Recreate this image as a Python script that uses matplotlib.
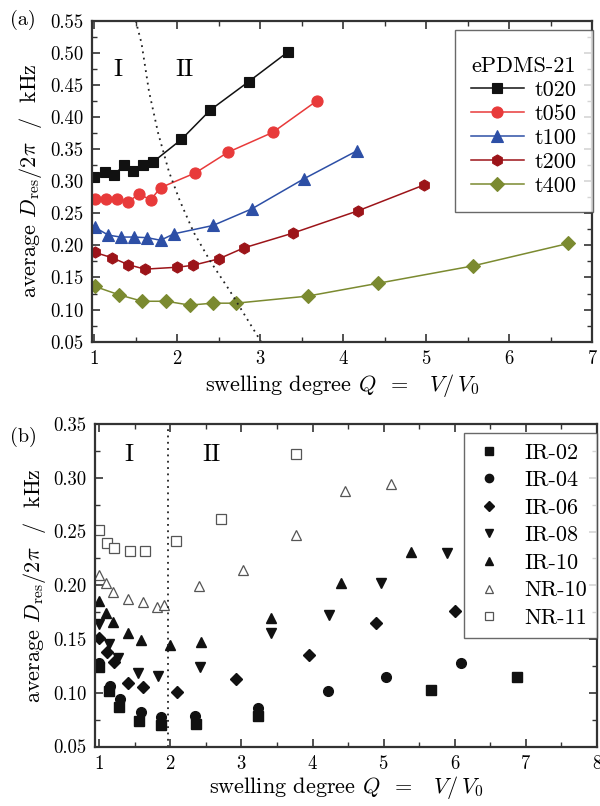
import matplotlib
matplotlib.use("Agg")
import matplotlib.pyplot as plt
from matplotlib.ticker import MultipleLocator, FormatStrFormatter

plt.rcParams['font.family'] = ['cmr10', 'DejaVu Serif']
plt.rcParams['mathtext.fontset'] = 'cm'
plt.rcParams['axes.unicode_minus'] = False
plt.rcParams['axes.formatter.use_mathtext'] = True

# ---------------- panel (a) data ----------------
t020_q = [1.00, 1.13, 1.24, 1.36, 1.47, 1.59, 1.71, 2.05, 2.40, 2.86, 3.33]
t020_v = [0.307, 0.314, 0.310, 0.325, 0.316, 0.326, 0.330, 0.365, 0.411, 0.455, 0.501]
t050_q = [1.01, 1.14, 1.28, 1.41, 1.54, 1.68, 1.80, 2.22, 2.61, 3.15, 3.68]
t050_v = [0.272, 0.272, 0.273, 0.268, 0.280, 0.271, 0.290, 0.313, 0.345, 0.376, 0.425]
t100_q = [1.01, 1.17, 1.32, 1.48, 1.64, 1.80, 1.96, 2.43, 2.90, 3.53, 4.16]
t100_v = [0.228, 0.216, 0.213, 0.213, 0.212, 0.208, 0.218, 0.231, 0.257, 0.304, 0.347]
t200_q = [1.01, 1.21, 1.41, 1.61, 2.00, 2.19, 2.50, 2.80, 3.39, 4.18, 4.97]
t200_v = [0.189, 0.181, 0.170, 0.163, 0.166, 0.169, 0.179, 0.196, 0.219, 0.254, 0.294]
t400_q = [1.01, 1.30, 1.58, 1.87, 2.15, 2.43, 2.71, 3.57, 4.42, 5.56, 6.71]
t400_v = [0.136, 0.123, 0.113, 0.113, 0.107, 0.110, 0.110, 0.121, 0.141, 0.168, 0.203]
boundary_a_q = [1.50, 1.57, 1.66, 1.77, 1.90, 2.03, 2.20, 2.40, 2.63, 2.82, 3.01]
boundary_a_v = [0.55, 0.515, 0.44, 0.375, 0.315, 0.27, 0.22, 0.175, 0.13, 0.09, 0.05]

series_a = [
    ("t020", t020_q, t020_v, "#111111", "s", 7),
    ("t050", t050_q, t050_v, "#e83a3a", "o", 8),
    ("t100", t100_q, t100_v, "#2d4fa6", "^", 8),
    ("t200", t200_q, t200_v, "#9c1419", "h", 8),
    ("t400", t400_q, t400_v, "#7b8a30", "D", 7),
]

# ---------------- panel (b) data ----------------
ir02_q = [1.00, 1.14, 1.28, 1.56, 1.87, 2.36, 3.23, 5.67, 6.88]
ir02_v = [0.124, 0.102, 0.087, 0.074, 0.070, 0.071, 0.078, 0.103, 0.115]
ir04_q = [1.00, 1.15, 1.29, 1.58, 1.87, 2.35, 3.23, 4.22, 5.03, 6.09]
ir04_v = [0.128, 0.106, 0.094, 0.082, 0.077, 0.078, 0.086, 0.102, 0.115, 0.128]
ir06_q = [1.00, 1.11, 1.21, 1.41, 1.61, 2.10, 2.92, 3.95, 4.89, 6.00]
ir06_v = [0.151, 0.138, 0.129, 0.109, 0.105, 0.101, 0.113, 0.135, 0.165, 0.176]
ir08_q = [1.00, 1.13, 1.27, 1.55, 1.82, 2.41, 3.41, 4.23, 4.96, 5.89]
ir08_v = [0.164, 0.145, 0.132, 0.118, 0.116, 0.124, 0.156, 0.172, 0.202, 0.230]
ir10_q = [1.00, 1.09, 1.19, 1.40, 1.59, 1.99, 2.43, 3.42, 4.40, 5.39]
ir10_v = [0.185, 0.174, 0.166, 0.156, 0.149, 0.144, 0.147, 0.170, 0.202, 0.231]
nr10_q = [1.00, 1.09, 1.20, 1.41, 1.61, 1.81, 1.91, 2.40, 3.02, 3.76, 4.46, 5.10]
nr10_v = [0.210, 0.202, 0.194, 0.187, 0.184, 0.180, 0.182, 0.199, 0.214, 0.247, 0.288, 0.294]
nr11_q = [1.00, 1.11, 1.21, 1.43, 1.65, 2.08, 2.71, 3.77]
nr11_v = [0.251, 0.239, 0.235, 0.232, 0.232, 0.241, 0.262, 0.322]
boundary_b_q = 1.96

series_b = [
    ("IR-02", ir02_q, ir02_v, "s", True, 6.5),
    ("IR-04", ir04_q, ir04_v, "o", True, 7),
    ("IR-06", ir06_q, ir06_v, "D", True, 6),
    ("IR-08", ir08_q, ir08_v, "v", True, 7),
    ("IR-10", ir10_q, ir10_v, "^", True, 7),
    ("NR-10", nr10_q, nr10_v, "^", False, 7.5),
    ("NR-11", nr11_q, nr11_v, "s", False, 6.5),
]

FS = 13.5
LFS = 16
fig = plt.figure(figsize=(6.0, 8.06), dpi=100)
W, H = 600.0, 806.0
ax1 = fig.add_axes([91.7 / W, 1 - 341.7 / H, (592.3 - 91.7) / W, (341.7 - 20.7) / H])
ax2 = fig.add_axes([95.0 / W, 1 - 746.5 / H, (597.0 - 95.0) / W, (746.5 - 424.0) / H])

def style(ax):
    for s in ax.spines.values():
        s.set_linewidth(1.6)
        s.set_color("#333333")
    ax.tick_params(which="both", direction="in", top=True, right=True,
                   labelsize=FS, pad=6, color="#333333")
    ax.tick_params(which="major", length=6, width=1.2)
    ax.tick_params(which="minor", length=3.5, width=1.0)
    ax.xaxis.set_major_locator(MultipleLocator(1))
    ax.xaxis.set_minor_locator(MultipleLocator(0.5))
    ax.yaxis.set_major_locator(MultipleLocator(0.05))
    ax.yaxis.set_minor_locator(MultipleLocator(0.025))
    ax.yaxis.set_major_formatter(FormatStrFormatter("%.2f"))

ylabel = r"average $D_{\rm res}/2\pi$  /  kHz"
xlabel = r"swelling degree $Q$  =   $V/\,V_0$"

# panel a
for name, q, v, c, m, ms in series_a:
    ax1.plot(q, v, color=c, marker=m, markersize=ms, linewidth=1.1,
             markeredgewidth=0.8, markeredgecolor=c, label=name)
ax1.plot(boundary_a_q, boundary_a_v, color="#222222", linestyle=(0, (1, 2.5)),
         linewidth=1.3)
ax1.set_xlim(0.97, 7.0)
ax1.set_ylim(0.05, 0.55)
style(ax1)
ax1.set_xlabel(xlabel, fontsize=LFS, labelpad=3)
ax1.set_ylabel(ylabel, fontsize=LFS, labelpad=4)
ax1.text(1.29, 0.473, "I", fontsize=18, ha="center", va="center")
ax1.text(2.09, 0.473, "II", fontsize=18, ha="center", va="center")
leg1 = ax1.legend(title="\nePDMS-21", loc="upper left",
                  bbox_to_anchor=(455 / W, 1 - 30 / H),
                  bbox_transform=fig.transFigure,
                  fontsize=LFS, title_fontsize=LFS, frameon=True,
                  fancybox=False, edgecolor="#444444", handlelength=2.4,
                  handletextpad=0.5, borderpad=0.7, labelspacing=0.2,
                  borderaxespad=0.0)
leg1.get_title().set_linespacing(0.45)
leg1.get_frame().set_linewidth(1.0)

# panel b
for name, q, v, m, filled, ms in series_b:
    if filled:
        ax2.plot(q, v, linestyle="none", marker=m, markersize=ms,
                 color="#111111", markeredgecolor="#111111", label=name)
    else:
        ax2.plot(q, v, linestyle="none", marker=m, markersize=ms,
                 markerfacecolor="white", markeredgecolor="#555555",
                 markeredgewidth=0.9, label=name)
ax2.axvline(boundary_b_q, color="#222222", linestyle=(0, (1, 2.5)), linewidth=1.3)
ax2.set_xlim(0.94, 8.0)
ax2.set_ylim(0.05, 0.35)
style(ax2)
ax2.set_xlabel(xlabel, fontsize=LFS, labelpad=1)
ax2.set_ylabel(ylabel, fontsize=LFS, labelpad=4)
ax2.text(1.41, 0.321, "I", fontsize=18, ha="center", va="center")
ax2.text(2.58, 0.321, "II", fontsize=18, ha="center", va="center")
leg2 = ax2.legend(loc="upper right",
                  bbox_to_anchor=(1.0, 1 - 9 / 322.5),
                  fontsize=LFS, frameon=True, fancybox=False,
                  edgecolor="#444444", handlelength=1.3, handletextpad=0.95,
                  borderpad=0.45, labelspacing=0.36, borderaxespad=0.0,
                  markerscale=0.85)
leg2.get_frame().set_linewidth(1.0)

fig.text(10 / W, 1 - 20 / H, "(a)", fontsize=14.5, ha="left", va="center")
fig.text(10 / W, 1 - 437 / H, "(b)", fontsize=14.5, ha="left", va="center")

fig.savefig("out.png", dpi=100)
